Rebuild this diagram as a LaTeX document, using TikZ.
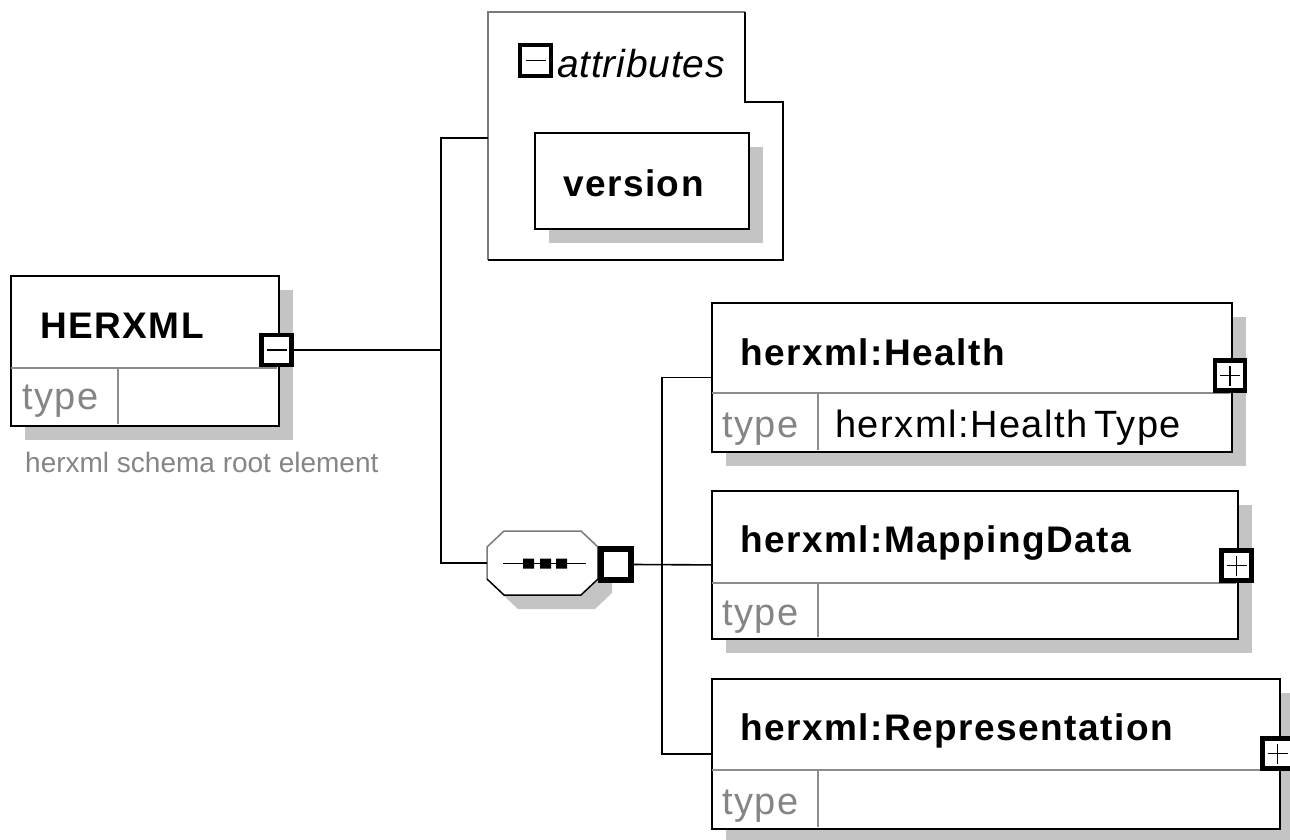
\documentclass[tikz,border=0pt]{standalone}
\usepackage{fontspec}
\setmainfont{Liberation Sans}
\usetikzlibrary{shadows}
\definecolor{shadowgray}{HTML}{C4C4C4}
\definecolor{linegray}{HTML}{8C8C8C}
\definecolor{textgray}{HTML}{858585}
\definecolor{edgegray}{HTML}{7A7A7A}
\begin{document}
\begin{tikzpicture}[x=1pt,y=-1pt,
  elem/.style={draw=black, line width=1.8pt, fill=white, anchor=north west, inner sep=0pt,
    drop shadow={shadow xshift=14pt, shadow yshift=-14pt, opacity=1, fill=shadowgray}},
  divider/.style={draw=linegray, line width=1.3pt},
  conn/.style={draw=black, line width=1.6pt},
  pmbox/.style={draw=black, line width=4.6pt, fill=white, minimum width=30pt, minimum height=30pt, inner sep=0pt},
  sign/.style={draw=black, line width=1.5pt},
  namefont/.style={font=\fontsize{37}{40}\selectfont\bfseries\addfontfeatures{LetterSpace=4}},
  typefont/.style={font=\fontsize{38}{40}\selectfont\addfontfeatures{LetterSpace=4}, text=textgray},
  valfont/.style={font=\fontsize{38}{40}\selectfont\addfontfeatures{LetterSpace=4}},
  lbl/.style={anchor=base west, inner sep=0pt},
]
\useasboundingbox (0,0) rectangle (1290,840);
\clip (0,0) rectangle (1290,840);

% ---------- attributes group ----------
\draw[line width=1.6pt, edgegray] (488,260) -- (488,12) -- (745,12);
\draw[line width=1.6pt, black] (745,12) -- (745,102) -- (783,102) -- (783,260) -- (488,260);
\node[pmbox, line width=4.4pt, minimum width=31pt, minimum height=31pt] (attrminus) at (535.5,60.5) {};
\draw[sign] ([xshift=-10pt]attrminus.center) -- ([xshift=10pt]attrminus.center);
\node[lbl, font=\fontsize{39}{40}\selectfont\itshape\addfontfeatures{LetterSpace=2}] (attrlbl) at (557,78) {attributes};
\coordinate (attrin) at (488,138);
\node[elem, minimum width=214pt, minimum height=96pt] (version) at (534,132) {};
\node[lbl, namefont] (versionlbl) at (563,196) {version};

% ---------- root element ----------
\node[elem, minimum width=268pt, minimum height=150pt] (herxml) at (10,275) {};
\draw[divider] (11,368) -- (277,368) (118,368) -- (118,424);
\node[lbl, namefont] (herxmllbl) at (40,338) {HERXML};
\node[lbl, typefont] (herxmltype) at (22,409) {type};
\node[pmbox] (hminus) at (276.5,350) {};
\draw[sign] ([xshift=-10pt]hminus.center) -- ([xshift=10pt]hminus.center);
\node[lbl, font=\fontsize{28}{30}\selectfont, text=textgray] (note) at (25,472) {herxml schema root element};

% ---------- sequence compositor ----------
\fill[shadowgray] (518,545) -- (595,545) -- (612,561) -- (612,593) -- (595,609) -- (518,609) -- (501,593) -- (501,561) -- cycle;
\fill[white] (504,531) -- (581,531) -- (598,547) -- (598,579) -- (581,595) -- (504,595) -- (487,579) -- (487,547) -- cycle;
\draw[line width=1.5pt, edgegray] (487,579) -- (487,547) -- (504,531) -- (581,531) -- (598,547);
\draw[line width=1.5pt, black] (598,547) -- (598,579) -- (581,595) -- (504,595) -- (487,579);
\node[minimum width=111pt, minimum height=64pt, inner sep=0pt] (seq) at (542.5,563) {};
\draw[line width=1.5pt] (503,563.5) -- (586,563.5);
\fill (523,558.5) rectangle (534,568.5) (540,558.5) rectangle (551,568.5) (556,558.5) rectangle (567,568.5);
\node[pmbox, line width=5.5pt, minimum width=30pt, minimum height=31pt] (seqbox) at (616,564.5) {};

% ---------- child elements ----------
\node[elem, minimum width=520pt, minimum height=149pt] (health) at (711,302) {};
\draw[divider] (712,393) -- (1230,393) (818,393) -- (818,450);
\node[lbl, namefont] (healthlbl) at (740,365) {herxml:Health};
\node[lbl, typefont] (healthtype) at (722,437) {type};
\node[lbl, valfont] (healthval) at (835,437) {herxml:Health\,Type};
\node[pmbox] (hplus) at (1230,375.5) {};
\draw[sign] ([xshift=-10pt]hplus.center) -- ([xshift=10pt]hplus.center) ([yshift=-10pt]hplus.center) -- ([yshift=10pt]hplus.center);

\node[elem, minimum width=526pt, minimum height=148pt] (mapping) at (711,490) {};
\draw[divider] (712,583) -- (1236,583) (818,583) -- (818,637);
\node[lbl, namefont] (mappinglbl) at (740,552) {herxml:MappingData};
\node[lbl, typefont] (mappingtype) at (722,625) {type};
\node[pmbox] (mplus) at (1236.5,565.5) {};
\draw[sign] ([xshift=-10pt]mplus.center) -- ([xshift=10pt]mplus.center) ([yshift=-10pt]mplus.center) -- ([yshift=10pt]mplus.center);

\node[elem, minimum width=568pt, minimum height=150pt] (repr) at (711,678) {};
\draw[divider] (712,770) -- (1278,770) (818,770) -- (818,827);
\node[lbl, namefont] (reprlbl) at (740,740) {herxml:Representation};
\node[lbl, typefont] (reprtype) at (722,814) {type};
\node[pmbox] (rplus) at (1277.5,753.5) {};
\draw[sign] ([xshift=-10pt]rplus.center) -- ([xshift=10pt]rplus.center) ([yshift=-10pt]rplus.center) -- ([yshift=10pt]rplus.center);

% ---------- connectors ----------
\coordinate (jtop) at (441,138);
\coordinate (jbot) at (441,563);
\coordinate (jv) at (662,563);
\draw[conn] (hminus.east) -| (jtop) -- (attrin);
\draw[conn] (hminus.east) -| (jbot) -- (seq.west);
\draw[conn] (seqbox.east) -- (mapping.west);
\draw[conn] (health.west) -| (jv) |- (repr.west);
\end{tikzpicture}
\end{document}
